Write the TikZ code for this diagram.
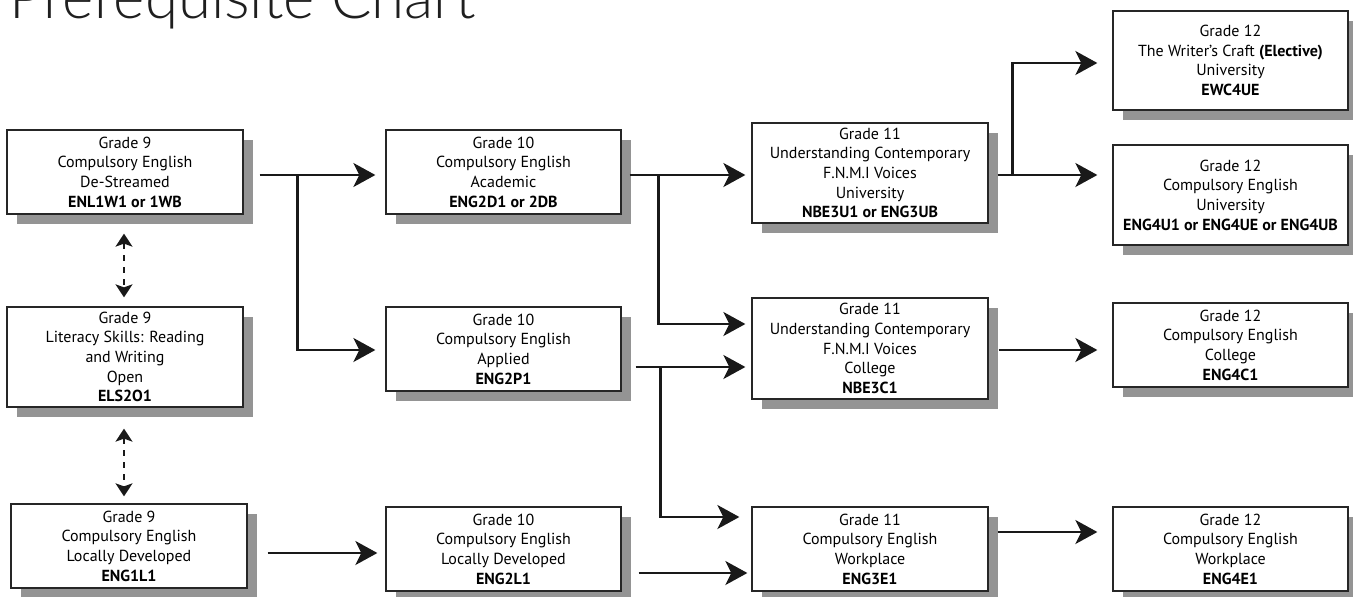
\documentclass[tikz,border=0pt]{standalone}
\usepackage{fontspec}
\setmainfont{PT Sans}
\newfontfamily\titlefont{Lato Light}
\usetikzlibrary{arrows.meta,calc,shadows}
\tikzset{
  course/.style={draw=black!85, line width=1.3pt, fill=white, align=center,
    inner sep=0pt, minimum width=235pt,
    font=\fontsize{16}{19.7}\selectfont,
    drop shadow={shadow xshift=10pt, shadow yshift=-10pt, fill=black!42, opacity=1}},
  arr/.style={line width=2.5pt, draw=black!90,
    -{Stealth[length=22pt,width=24pt,inset=6pt]}},
  darr/.style={line width=1.6pt, draw=black!90, dash pattern=on 6pt off 6pt,
    {Stealth[length=13pt,width=17pt,inset=3pt]}-{Stealth[length=13pt,width=17pt,inset=3pt]}}
}
\begin{document}
\begin{tikzpicture}[x=1pt,y=-1pt]
\useasboundingbox (0,0) rectangle (1353,597);
\node[anchor=base west, inner sep=0pt, font=\titlefont\fontsize{60}{60}\selectfont, text=black!88] (title) at (9,18) {Prerequisite Chart};

\node[course, minimum width=236pt, minimum height=84pt] (g9a) at (125,172)
  {Grade 9\\Compulsory English\\De-Streamed\\\textbf{ENL1W1 or 1WB}};
\node[course, minimum width=236pt, minimum height=100pt] (g9b) at (125,357)
  {Grade 9\\Literacy Skills: Reading\\and Writing\\Open\\\textbf{ELS2O1}};
\node[course, minimum width=236pt, minimum height=84pt] (g9c) at (129,546)
  {Grade 9\\Compulsory English\\Locally Developed\\\textbf{ENG1L1}};

\node[course, minimum height=84pt] (g10a) at (503.5,172)
  {Grade 10\\Compulsory English\\Academic\\\textbf{ENG2D1 or 2DB}};
\node[course, minimum height=84pt] (g10b) at (503.5,349)
  {Grade 10\\Compulsory English\\Applied\\\textbf{ENG2P1}};
\node[course, minimum height=84pt] (g10c) at (503.5,549)
  {Grade 10\\Compulsory English\\Locally Developed\\\textbf{ENG2L1}};

\node[course, minimum width=236pt, minimum height=100pt] (g11a) at (870,173)
  {Grade 11\\Understanding Contemporary\\F.N.M.I Voices\\University\\\textbf{NBE3U1 or ENG3UB}};
\node[course, minimum width=236pt, minimum height=101pt] (g11b) at (870,348.5)
  {Grade 11\\Understanding Contemporary\\F.N.M.I Voices\\College\\\textbf{NBE3C1}};
\node[course, minimum width=236pt, minimum height=84pt] (g11c) at (870,549)
  {Grade 11\\Compulsory English\\Workplace\\\textbf{ENG3E1}};

\node[course, minimum height=99pt] (g12a) at (1230.5,60.5)
  {Grade 12\\The Writer’s Craft \textbf{(Elective)}\\University\\\textbf{EWC4UE}};
\node[course, minimum height=100pt] (g12b) at (1230.5,195)
  {Grade 12\\Compulsory English\\University\\\textbf{ENG4U1 or ENG4UE or ENG4UB}};
\node[course, minimum height=84pt] (g12c) at (1230.5,345)
  {Grade 12\\Compulsory English\\College\\\textbf{ENG4C1}};
\node[course, minimum height=84pt] (g12d) at (1230.5,549)
  {Grade 12\\Compulsory English\\Workplace\\\textbf{ENG4E1}};

% Grade 9 -> Grade 10
\draw[arr] ($(g9a.east)+(16,3)$) -- ($(g10a.west)+(-10,3)$);
\draw[arr] ($(g9a.east)+(54,3)$) |- ($(g10b.west)+(-10,1)$);
\draw[arr] ($(g9c.east)+(20,7)$) -- ($(g10c.west)+(-8,4)$);

% Grade 10 -> Grade 11
\draw[arr] ($(g10a.east)+(8,3)$) -- ($(g11a.west)+(-6,2)$);
\draw[arr] ($(g10a.east)+(37,3)$) |- ($(g11b.west)+(-6,-24.5)$);
\draw[arr] ($(g10b.east)+(14,18)$) -- ($(g11b.west)+(-6,18.5)$);
\draw[arr] ($(g10b.east)+(39,18)$) |- ($(g11c.west)+(-12,-32)$);
\draw[arr] ($(g10c.east)+(17,24)$) -- ($(g11c.west)+(-4,24)$);

% Grade 11 -> Grade 12
\draw[arr] ($(g11a.east)+(9,2)$) -- ($(g12b.west)+(-15,-20)$);
\draw[arr] ($(g11a.east)+(24,2)$) |- ($(g12a.west)+(-15,2.5)$);
\draw[arr] ($(g11b.east)+(10,1.5)$) -- ($(g12c.west)+(-15,5)$);
\draw[arr] ($(g11c.east)+(9,-17)$) -- ($(g12d.west)+(-15,-17)$);

% dashed two-way links
\draw[darr] ($(g9a.south)+(-1,19)$) -- ($(g9b.north)+(-1,-9)$);
\draw[darr] ($(g9b.south)+(-1,21)$) -- ($(g9c.north)+(-5,-7)$);
\end{tikzpicture}
\end{document}
